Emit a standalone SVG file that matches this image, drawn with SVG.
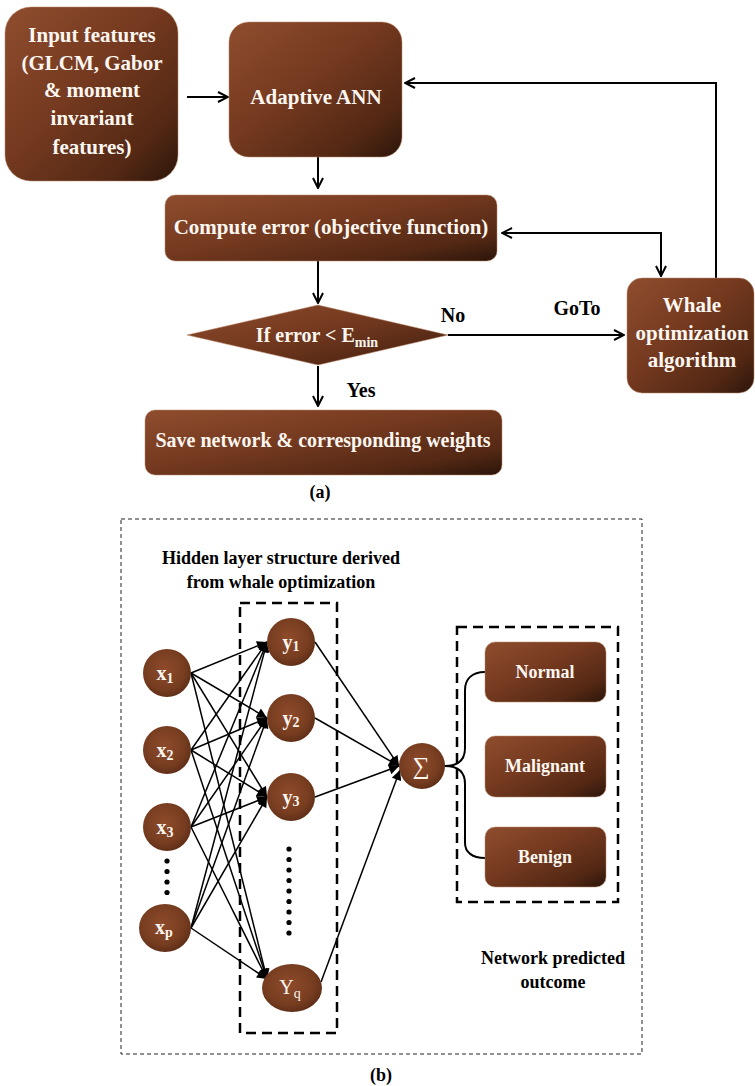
<svg xmlns="http://www.w3.org/2000/svg" width="755" height="1086" viewBox="0 0 755 1086">
<defs>
<linearGradient id="leather" x1="0" y1="0" x2="1" y2="1">
<stop offset="0" stop-color="#8f4d2e"/>
<stop offset="0.45" stop-color="#74391f"/>
<stop offset="0.8" stop-color="#532814"/>
<stop offset="1" stop-color="#2c150a"/>
</linearGradient>
<radialGradient id="ball" cx="0.45" cy="0.42" r="0.6">
<stop offset="0" stop-color="#8e4b2b"/>
<stop offset="0.7" stop-color="#773d20"/>
<stop offset="1" stop-color="#5e2e17"/>
</radialGradient>
<marker id="open" viewBox="0 0 12 12" refX="11" refY="6" markerWidth="12" markerHeight="12" markerUnits="userSpaceOnUse" orient="auto-start-reverse">
<path d="M1,1 L11,6 L1,11" fill="none" stroke="#000" stroke-width="2"/>
</marker>
<marker id="solid" viewBox="0 0 10 10" refX="10" refY="5" markerWidth="11" markerHeight="10" markerUnits="userSpaceOnUse" orient="auto">
<path d="M0,0 L10,5 L0,10 z" fill="#000"/>
</marker>
</defs>
<style>
.box{fill:url(#leather);stroke:#b98a6c;stroke-width:1;stroke-opacity:0.5}
.ball{fill:url(#ball)}
.t{font-family:"Liberation Serif","Times New Roman",serif;font-weight:bold;fill:#fbf6f0;text-anchor:middle}
.k{font-family:"Liberation Serif","Times New Roman",serif;font-weight:bold;fill:#000;text-anchor:middle}
.r{font-family:"Liberation Serif","Times New Roman",serif;font-weight:normal;fill:#fbf6f0;text-anchor:middle}
.a{fill:none;stroke:#000;stroke-width:2;marker-end:url(#open)}
.n{fill:none;stroke:#000;stroke-width:1.5;marker-end:url(#solid)}
.dash{fill:none;stroke:#000;stroke-width:2.5;stroke-dasharray:10 6}
.thin{fill:none;stroke:#222;stroke-width:1;stroke-dasharray:4 3}
</style>
<rect width="755" height="1086" fill="#fff"/>

<g id="connectors">
<line class="a" x1="187" y1="97" x2="228" y2="97"/>
<line class="a" x1="318" y1="157" x2="318" y2="188"/>
<line class="a" x1="318" y1="261" x2="318" y2="303"/>
<line class="a" x1="318" y1="366" x2="318" y2="406"/>
<line class="a" x1="448" y1="335" x2="624" y2="335"/>
<polyline class="a" points="716,278 716,83 405,83"/>
<polyline class="a" points="502,233 661,233 661,276" style="marker-start:url(#open)"/>
<g id="net">
<line class="n" x1="191" y1="673" x2="267" y2="642"/>
<line class="n" x1="191" y1="673" x2="267" y2="718"/>
<line class="n" x1="191" y1="673" x2="267" y2="797"/>
<line class="n" x1="191" y1="673" x2="267" y2="979"/>
<line class="n" x1="191" y1="750" x2="267" y2="642"/>
<line class="n" x1="191" y1="750" x2="267" y2="718"/>
<line class="n" x1="191" y1="750" x2="267" y2="797"/>
<line class="n" x1="191" y1="750" x2="267" y2="979"/>
<line class="n" x1="191" y1="827" x2="267" y2="642"/>
<line class="n" x1="191" y1="827" x2="267" y2="718"/>
<line class="n" x1="191" y1="827" x2="267" y2="797"/>
<line class="n" x1="191" y1="827" x2="267" y2="979"/>
<line class="n" x1="191" y1="928" x2="267" y2="642"/>
<line class="n" x1="191" y1="928" x2="267" y2="718"/>
<line class="n" x1="191" y1="928" x2="267" y2="797"/>
<line class="n" x1="191" y1="928" x2="267" y2="979"/>
<line class="n" x1="315" y1="642" x2="399" y2="766"/>
<line class="n" x1="315" y1="718" x2="399" y2="766"/>
<line class="n" x1="315" y1="797" x2="399" y2="766"/>
<line class="n" x1="321" y1="982" x2="400" y2="770"/>
</g>
<path d="M445,766 C458,766 465,760 465,748 L465,690 C465,679 472,672 485,672" fill="none" stroke="#000" stroke-width="2"/>
<path d="M445,766 C458,766 465,772 465,784 L465,843 C465,852 472,858 485,858" fill="none" stroke="#000" stroke-width="2"/>
</g>

<g id="input">
<rect class="box" x="5" y="7" width="173" height="174" rx="26"/>
<text class="t" font-size="21" x="92" y="42">Input features</text>
<text class="t" font-size="21" x="92" y="70">(GLCM, Gabor</text>
<text class="t" font-size="21" x="92" y="97">&amp; moment</text>
<text class="t" font-size="21" x="92" y="125">invariant</text>
<text class="t" font-size="21" x="92" y="154">features)</text>
</g>
<g id="ann">
<rect class="box" x="229" y="22" width="173" height="135" rx="20"/>
<text class="t" font-size="21" x="316" y="104">Adaptive ANN</text>
</g>
<g id="compute">
<rect class="box" x="165" y="195" width="332" height="66" rx="10"/>
<text class="t" font-size="21" x="331" y="234">Compute error (objective function)</text>
</g>
<g id="decision">
<polygon class="box" points="187,335 318,305 448,335 318,365"/>
<text class="t" font-size="20" x="317" y="342">If error &lt; E<tspan font-size="14" dy="5">min</tspan></text>
</g>
<g id="save">
<rect class="box" x="145" y="410" width="357" height="65" rx="10"/>
<text class="t" font-size="20" x="323" y="447">Save network &amp; corresponding weights</text>
</g>
<g id="whale">
<rect class="box" x="627" y="278" width="127" height="115" rx="15"/>
<text class="t" font-size="21" x="692" y="312">Whale</text>
<text class="t" font-size="21" x="692" y="340">optimization</text>
<text class="t" font-size="21" x="692" y="367">algorithm</text>
</g>
<g id="labels-a">
<text class="k" font-size="20" x="453" y="322">No</text>
<text class="k" font-size="20" x="577" y="315">GoTo</text>
<text class="k" font-size="20" x="361" y="397">Yes</text>
<text class="k" font-size="18" x="320" y="498">(a)</text>
</g>

<g id="panel-b">
<rect class="thin" x="121" y="519" width="521" height="535"/>
<text class="k" font-size="18" x="281" y="564">Hidden layer structure derived</text>
<text class="k" font-size="18" x="281" y="588">from whale optimization</text>
<rect class="dash" x="240" y="603" width="97" height="430"/>
<rect class="dash" x="457" y="627" width="161" height="275"/>
<text class="k" font-size="18" x="553" y="964">Network predicted</text>
<text class="k" font-size="18" x="553" y="988">outcome</text>
<text class="k" font-size="18" x="381" y="1081">(b)</text>
</g>

<g id="x1"><circle class="ball" cx="167" cy="673" r="24"/><text class="t" font-size="20" x="165" y="680">x<tspan font-size="14" dy="3">1</tspan></text></g>
<g id="x2"><circle class="ball" cx="167" cy="750" r="24"/><text class="t" font-size="20" x="165" y="757">x<tspan font-size="14" dy="3">2</tspan></text></g>
<g id="x3"><circle class="ball" cx="167" cy="827" r="24"/><text class="t" font-size="20" x="165" y="834">x<tspan font-size="14" dy="3">3</tspan></text></g>
<g id="xdots" fill="#000"><circle cx="167" cy="861" r="2.6"/><circle cx="167" cy="871.5" r="2.6"/><circle cx="167" cy="882" r="2.6"/><circle cx="167" cy="892.5" r="2.6"/></g>
<g id="xp"><ellipse class="ball" cx="165" cy="928" rx="26" ry="24"/><text class="t" font-size="20" x="164" y="934">x<tspan font-size="14" dy="3">p</tspan></text></g>
<g id="y1"><circle class="ball" cx="291" cy="642" r="24"/><text class="t" font-size="20" x="291" y="649">y<tspan font-size="14" dy="2">1</tspan></text></g>
<g id="y2"><circle class="ball" cx="291" cy="718" r="24"/><text class="t" font-size="20" x="291" y="725">y<tspan font-size="14" dy="2">2</tspan></text></g>
<g id="y3"><circle class="ball" cx="291" cy="797" r="24"/><text class="t" font-size="20" x="291" y="804">y<tspan font-size="14" dy="2">3</tspan></text></g>
<g id="ydots" fill="#000"><circle cx="289" cy="849" r="2.6"/><circle cx="289" cy="859.5" r="2.6"/><circle cx="289" cy="870" r="2.6"/><circle cx="289" cy="880.5" r="2.6"/><circle cx="289" cy="891" r="2.6"/><circle cx="289" cy="901.5" r="2.6"/><circle cx="289" cy="912" r="2.6"/><circle cx="289" cy="922.5" r="2.6"/><circle cx="289" cy="933" r="2.6"/></g>
<g id="yq"><ellipse class="ball" cx="292" cy="988" rx="30" ry="24"/><text class="r" font-size="20" x="290" y="994">Y<tspan font-size="14" dy="4">q</tspan></text></g>
<g id="sum"><circle class="ball" cx="422" cy="766" r="23"/><text class="r" font-size="24" x="421" y="774">∑</text></g>
<g id="normal"><rect class="box" x="485" y="642" width="121" height="60" rx="10"/><text class="t" font-size="18" x="545" y="678">Normal</text></g>
<g id="malignant"><rect class="box" x="485" y="736" width="121" height="61" rx="10"/><text class="t" font-size="18" x="545" y="772">Malignant</text></g>
<g id="benign"><rect class="box" x="485" y="827" width="121" height="60" rx="10"/><text class="t" font-size="18" x="545" y="863">Benign</text></g>
</svg>
